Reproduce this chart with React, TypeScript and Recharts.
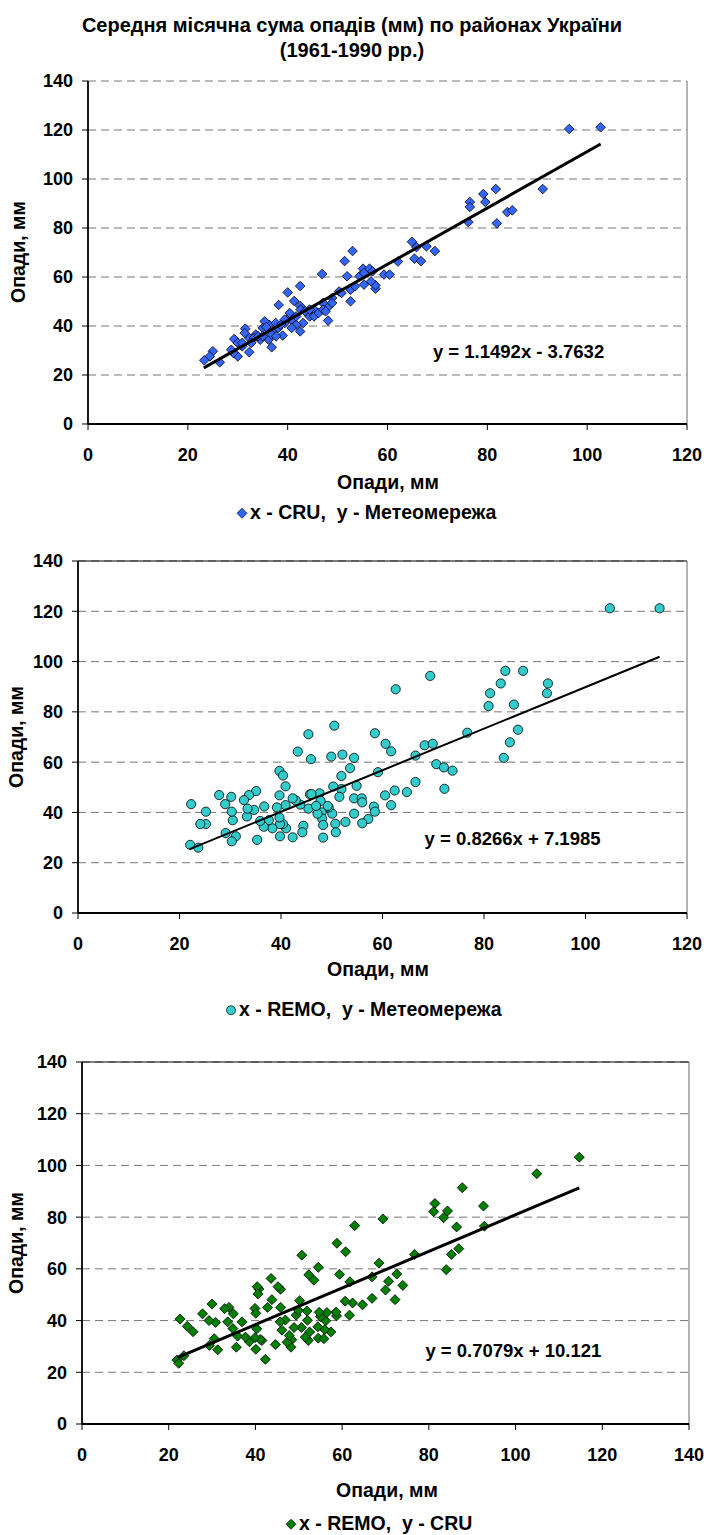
import React from 'react'
import {
  ScatterChart,
  Scatter,
  XAxis,
  YAxis,
  CartesianGrid,
  ReferenceDot,
  ReferenceLine,
} from 'recharts'

const FONT = '"Liberation Sans", Arial, sans-serif'

// chart 1: x - CRU, y - Метеомережа
const cruX = [
  96.4, 102.7, 91.1, 81.7, 79.2, 79.6, 76.5, 76.5, 84.0, 85.0, 81.9, 76.2, 64.9, 65.8, 67.8, 69.5,
  65.4, 66.7, 62.1, 59.3, 60.4, 53.0, 51.4, 51.9, 55.1, 56.4, 57.0, 55.3, 57.6, 57.6, 52.6, 52.6,
  53.5, 50.3, 46.9, 42.5, 40.0, 41.3, 38.2, 42.5, 48.1, 48.2, 47.1, 45.3, 44.4, 43.1, 42.5, 41.7,
  39.9, 39.0, 37.2, 36.8, 36.3, 35.4, 35.0, 36.2, 34.5, 33.6, 31.5, 32.3, 29.3, 30.0, 30.9, 32.3,
  30.0, 29.1, 28.7, 26.4, 25.0, 24.4, 23.3, 38.1, 39.4, 40.8, 40.8, 45.3, 46.2, 47.1, 47.6, 48.9,
  48.9, 39.4, 37.6, 33.2, 32.7, 30.9, 31.4, 34.1, 35.0, 35.7, 36.8, 37.7, 38.6, 40.4, 41.7, 42.6,
  43.5, 44.4, 50.8, 54.4, 55.3, 56.7,
]
const meteoY1 = [
  120.4, 121.1, 95.9, 95.9, 93.9, 90.6, 90.6, 88.6, 86.5, 87.2, 81.9, 82.4, 74.4, 72.2, 72.5, 70.6,
  67.5, 66.5, 66.3, 61.0, 61.0, 70.6, 66.5, 60.3, 63.4, 63.4, 62.3, 56.9, 55.2, 56.6, 50.1, 54.8,
  56.2, 54.1, 61.2, 56.3, 53.7, 50.2, 48.6, 48.2, 42.2, 48.0, 49.4, 46.7, 43.9, 41.2, 37.8, 40.5,
  42.6, 36.1, 37.8, 31.3, 40.5, 41.9, 39.2, 34.4, 34.4, 36.5, 38.9, 35.1, 34.7, 33.1, 31.7, 29.3,
  27.6, 29.0, 30.3, 25.2, 29.7, 27.6, 26.0, 39.2, 41.2, 42.6, 39.2, 43.9, 45.3, 46.7, 46.0, 51.4,
  49.4, 42.6, 41.2, 35.1, 33.1, 33.1, 37.1, 35.8, 35.8, 39.6, 36.5, 35.8, 40.5, 45.3, 43.9, 46.7,
  46.0, 46.7, 53.5, 60.3, 61.6, 58.2,
]

// chart 2: x - REMO, y - Метеомережа
const remoX2 = [
  104.8, 114.6, 69.4, 62.6, 84.2, 87.7, 83.3, 81.2, 80.9, 85.9, 92.6, 92.4, 86.7, 85.1, 83.9, 76.7,
  68.3, 69.9, 66.5, 70.6, 72.1, 73.8, 72.2, 66.5, 64.8, 62.4, 60.5, 61.7, 61.7, 60.6, 58.5, 59.1,
  54.4, 53.6, 51.9, 52.1, 50.5, 49.9, 45.4, 43.3, 45.9, 39.7, 40.4, 40.9, 54.9, 51.9, 51.5, 50.3,
  54.4, 55.9, 56.0, 58.3, 58.5, 54.4, 57.2, 56.0, 52.7, 50.7, 50.8, 50.1, 49.4, 49.2, 47.6, 47.8,
  48.0, 48.1, 48.3, 48.3, 47.2, 45.7, 45.4, 43.8, 42.9, 42.3, 44.4, 44.2, 42.3, 41.0, 40.4, 39.8,
  39.8, 39.7, 39.7, 40.9, 39.2, 38.3, 37.6, 36.7, 36.6, 35.9, 35.3, 35.1, 34.7, 33.7, 33.3, 33.4,
  32.7, 31.1, 30.5, 30.3, 30.2, 30.3, 29.0, 29.1, 27.8, 25.2, 25.2, 24.1, 22.3, 22.1, 23.7, 46.0,
  46.9,
]
const meteoY2 = [
  121.2, 121.2, 94.3, 89.0, 96.3, 96.3, 91.3, 87.4, 82.3, 82.9, 91.3, 87.4, 72.9, 67.9, 61.7, 71.7,
  66.7, 67.3, 62.6, 59.2, 57.9, 56.6, 49.4, 52.1, 48.1, 48.7, 46.8, 42.9, 64.3, 67.3, 71.5, 56.0,
  61.7, 57.6, 54.5, 63.0, 74.5, 62.2, 71.1, 64.2, 61.2, 56.5, 54.7, 50.4, 50.6, 49.3, 46.2, 50.3,
  45.6, 45.6, 44.0, 42.3, 40.3, 39.5, 37.4, 35.7, 36.2, 35.5, 32.1, 39.5, 42.0, 42.6, 47.6, 44.6,
  40.0, 37.6, 35.0, 30.0, 39.5, 47.2, 41.5, 43.1, 44.8, 45.6, 34.7, 32.1, 30.1, 33.7, 35.4, 30.5,
  35.4, 38.0, 46.8, 42.9, 42.0, 33.7, 36.9, 42.4, 34.3, 36.6, 29.1, 48.5, 41.0, 46.9, 38.4, 41.5,
  44.9, 30.5, 36.9, 40.3, 46.2, 28.5, 43.3, 31.8, 46.9, 35.4, 40.3, 35.4, 43.3, 27.1, 26.0, 47.3,
  42.6,
]

// chart 3: x - REMO, y - CRU
const remoX3 = [
  114.7, 104.9, 87.7, 81.4, 81.1, 84.3, 83.4, 92.6, 92.8, 86.4, 86.9, 85.2, 84.0, 76.7, 69.4, 62.9,
  60.8, 58.8, 59.4, 61.8, 68.5, 66.9, 72.6, 70.7, 74.0, 70.0, 72.2, 66.9, 64.7, 62.4, 60.7, 61.7,
  58.7, 58.6, 57.4, 56.0, 56.2, 56.5, 55.0, 54.7, 54.4, 54.5, 53.5, 52.3, 50.7, 50.2, 51.9, 52.0,
  52.5, 52.2, 51.5, 50.6, 49.4, 48.9, 48.4, 48.2, 47.3, 46.9, 46.1, 45.8, 45.7, 45.8, 45.2, 43.6,
  43.8, 42.8, 42.3, 44.6, 41.5, 41.1, 40.8, 40.4, 40.6, 39.9, 40.1, 40.3, 40.1, 39.9, 38.6, 37.7,
  36.9, 35.9, 35.6, 34.8, 34.9, 33.9, 32.9, 33.6, 30.5, 30.8, 30.0, 29.3, 29.4, 31.3, 27.8, 25.6,
  24.3, 22.6, 23.5, 21.9, 22.3, 49.9, 47.8, 54.5, 55.8,
]
const cruY3 = [
  103.2, 96.8, 91.4, 85.3, 82.1, 82.4, 79.8, 84.3, 76.5, 76.2, 67.8, 65.6, 59.7, 65.6, 79.3, 76.7,
  66.6, 69.9, 57.9, 55.0, 62.2, 56.9, 58.0, 55.2, 53.6, 51.8, 48.1, 48.6, 46.1, 46.8, 47.5, 42.1,
  41.8, 43.3, 35.6, 36.5, 39.9, 43.1, 41.5, 43.2, 37.6, 60.6, 55.6, 57.7, 65.3, 47.7, 43.7, 40.1,
  35.6, 32.3, 33.6, 37.3, 42.1, 37.3, 32.6, 29.7, 31.6, 40.2, 36.3, 45.1, 39.5, 52.1, 53.1, 56.3,
  48.1, 45.1, 25.0, 30.7, 32.3, 32.7, 52.2, 53.1, 50.3, 44.7, 42.8, 36.8, 28.9, 33.4, 31.8, 33.6,
  39.5, 34.0, 29.7, 36.9, 42.6, 45.1, 44.6, 39.5, 33.0, 39.3, 46.4, 40.0, 30.4, 28.7, 42.6, 35.7,
  37.8, 40.6, 26.4, 24.7, 23.5, 43.9, 34.2, 33.2, 33.0,
]

// linear trends (coefficients as printed on the chart) and their x range
const trend1 = { a: 1.1492, b: -3.7632, x0: 23.2, x1: 102.7, text: 'y = 1.1492x - 3.7632' }
const trend2 = { a: 0.8266, b: 7.1985, x0: 22.0, x1: 114.6, text: 'y = 0.8266x + 7.1985' }
const trend3 = { a: 0.7079, b: 10.121, x0: 22.0, x1: 114.7, text: 'y = 0.7079x + 10.121' }

const ticks120 = [0, 20, 40, 60, 80, 100, 120]
const ticks140 = [0, 20, 40, 60, 80, 100, 120, 140]

const toPoints = (xs: number[], ys: number[]) => xs.map((x, i) => ({ x, y: ys[i] }))
const trendPoints = (t: typeof trend1) => [
  { x: t.x0, y: t.a * t.x0 + t.b },
  { x: t.x1, y: t.a * t.x1 + t.b },
]

const tickStyle = { fontFamily: FONT, fontSize: 18, fontWeight: 700, fill: '#000' }

function Diamond(props: any) {
  const { cx, cy, fill, half } = props
  if (cx == null || cy == null) return <g />
  return (
    <path
      d={`M${cx},${cy - half}L${cx + half},${cy}L${cx},${cy + half}L${cx - half},${cy}Z`}
      fill={fill}
      stroke="#000"
      strokeWidth={0.8}
    />
  )
}

function Dot(props: any) {
  const { cx, cy, fill } = props
  if (cx == null || cy == null) return <g />
  return <circle cx={cx} cy={cy} r={4.6} fill={fill} stroke="#000" strokeWidth={0.8} />
}

interface PanelProps {
  top: number
  height: number
  margin: { top: number; right: number; bottom: number; left: number }
  data: { x: number; y: number }[]
  trend: typeof trend1
  lineWidth: number
  xMax: number
  xTicks: number[]
  shape: (p: any) => React.ReactElement
  eqX: number
  eqY: number
  solidTop: boolean
}

function Panel(p: PanelProps) {
  return (
    <div style={{ position: 'absolute', left: 0, top: p.top }}>
      <ScatterChart width={704} height={p.height} margin={p.margin}>
        <CartesianGrid
          vertical={false}
          stroke="#777"
          strokeDasharray="8 5"
          strokeWidth={1}
        />
        <XAxis
          type="number"
          dataKey="x"
          domain={[0, p.xMax]}
          ticks={p.xTicks}
          interval={0}
          height={30}
          tick={tickStyle}
          tickSize={6}
          tickMargin={18}
          axisLine={{ stroke: '#000', strokeWidth: 1.8 }}
          tickLine={{ stroke: '#000' }}
        />
        <YAxis
          type="number"
          dataKey="y"
          domain={[0, 140]}
          ticks={ticks140}
          interval={0}
          width={40}
          tick={tickStyle}
          tickSize={6}
          tickMargin={9}
          axisLine={{ stroke: '#000', strokeWidth: 1.8 }}
          tickLine={{ stroke: '#000' }}
        />
        <ReferenceLine x={p.xMax} stroke="#808080" strokeWidth={1.2} />
        {p.solidTop && <ReferenceLine y={140} stroke="#000" strokeWidth={1.2} />}
        <Scatter data={p.data} shape={p.shape} isAnimationActive={false} />
        <Scatter
          data={trendPoints(p.trend)}
          line={{ stroke: '#000', strokeWidth: p.lineWidth }}
          shape={() => <g />}
          isAnimationActive={false}
        />
        <ReferenceDot
          x={p.eqX}
          y={p.eqY}
          r={0}
          ifOverflow="visible"
          shape={(d: any) => (
            <text
              x={d.cx}
              y={d.cy}
              dominantBaseline="central"
              fontFamily={FONT}
              fontSize={18.5}
              fontWeight={700}
              fill="#000"
            >
              {p.trend.text}
            </text>
          )}
        />
      </ScatterChart>
    </div>
  )
}

const textBase: React.CSSProperties = {
  position: 'absolute',
  fontFamily: FONT,
  fontWeight: 700,
  color: '#000',
  whiteSpace: 'pre',
  lineHeight: 1,
}

function Centered({ x, y, size, children }: { x: number; y: number; size: number; children: React.ReactNode }) {
  return (
    <div style={{ ...textBase, left: x, top: y, fontSize: size, transform: 'translate(-50%, -50%)' }}>
      {children}
    </div>
  )
}

function YTitle({ x, y }: { x: number; y: number }) {
  return (
    <div
      style={{
        ...textBase,
        left: x,
        top: y,
        fontSize: 19.5,
        transform: 'translate(-50%, -50%) rotate(-90deg)',
      }}
    >
      Опади, мм
    </div>
  )
}

function LegendItem({ x, y, kind, color, label }: { x: number; y: number; kind: 'diamond' | 'circle'; color: string; label: string }) {
  return (
    <div style={{ ...textBase, left: x, top: y, fontSize: 19.5, transform: 'translateY(-50%)', display: 'flex', alignItems: 'center' }}>
      <svg width={12} height={12} style={{ marginRight: 2 }}>
        {kind === 'diamond' ? (
          <path d="M6,1L11,6L6,11L1,6Z" fill={color} stroke="#000" strokeWidth={0.7} />
        ) : (
          <circle cx={6} cy={6} r={4.5} fill={color} stroke="#000" strokeWidth={0.7} />
        )}
      </svg>
      {label}
    </div>
  )
}

export default function App() {
  return (
    <div style={{ position: 'absolute', left: 0, top: 0, width: 704, height: 1535, background: '#fff' }}>
      <Centered x={352} y={25} size={20}>
        Середня місячна сума опадів (мм) по районах України
      </Centered>
      <Centered x={352} y={50} size={20}>
        (1961-1990 рр.)
      </Centered>

      <Panel
        top={0}
        height={470}
        margin={{ top: 81, right: 17, bottom: 16, left: 48 }}
        data={toPoints(cruX, meteoY1)}
        trend={trend1}
        lineWidth={3}
        xMax={120}
        xTicks={ticks120}
        shape={(s: any) => <Diamond {...s} fill="#3366ff" half={4.8} />}
        eqX={69.1}
        eqY={29.4}
        solidTop={false}
      />
      <YTitle x={19} y={252} />
      <Centered x={388} y={483} size={19.5}>Опади, мм</Centered>
      <LegendItem x={236} y={513} kind="diamond" color="#3366ff" label="x - CRU,  y - Метеомережа" />

      <Panel
        top={530}
        height={445}
        margin={{ top: 31, right: 17, bottom: 32, left: 38 }}
        data={toPoints(remoX2, meteoY2)}
        trend={trend2}
        lineWidth={2}
        xMax={120}
        xTicks={ticks120}
        shape={(s: any) => <Dot {...s} fill="#33cccc" />}
        eqX={68.3}
        eqY={29.8}
        solidTop={true}
      />
      <YTitle x={17} y={737} />
      <Centered x={378} y={970} size={19.5}>Опади, мм</Centered>
      <LegendItem x={225} y={1010} kind="circle" color="#33cccc" label="x - REMO,  y - Метеомережа" />

      <Panel
        top={1030}
        height={440}
        margin={{ top: 32, right: 15, bottom: 16, left: 42 }}
        data={toPoints(remoX3, cruY3)}
        trend={trend3}
        lineWidth={3}
        xMax={140}
        xTicks={ticks140}
        shape={(s: any) => <Diamond {...s} fill="#008000" half={5} />}
        eqX={79.2}
        eqY={28.6}
        solidTop={true}
      />
      <YTitle x={17} y={1243} />
      <Centered x={387} y={1491} size={19.5}>Опади, мм</Centered>
      <LegendItem x={285} y={1524} kind="diamond" color="#008000" label="x - REMO,  y - CRU" />
    </div>
  )
}
